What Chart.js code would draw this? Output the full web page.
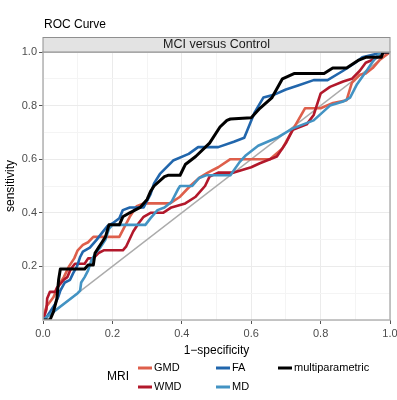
<!DOCTYPE html>
<html>
<head>
<meta charset="utf-8">
<script src="https://cdn.jsdelivr.net/npm/chart.js@4.4.0/dist/chart.umd.min.js"></script>
<style>
  html, body { margin: 0; padding: 0; background: #fff; }
</style>
</head>
<body>
<canvas id="roc" width="397" height="400"></canvas>
<script>
// ROC points: [1-specificity, sensitivity]
const gmd = [[0,0],[0.005,0.03],[0.01,0.05],[0.03,0.085],[0.045,0.13],[0.06,0.16],[0.075,0.2],[0.09,0.23],
  [0.1,0.26],[0.115,0.28],[0.13,0.29],[0.145,0.31],[0.22,0.31],[0.236,0.35],[0.25,0.385],[0.27,0.425],
  [0.29,0.435],[0.366,0.435],[0.395,0.46],[0.424,0.5],[0.45,0.53],[0.475,0.55],[0.505,0.57],[0.54,0.6],
  [0.654,0.6],[0.69,0.64],[0.72,0.71],[0.755,0.79],[0.8,0.79],[0.836,0.81],[0.875,0.82],[0.89,0.885],
  [0.913,0.915],[0.93,0.92],[0.95,0.94],[0.97,0.97],[1,1]];
const wmd = [[0,0],[0.01,0.04],[0.012,0.08],[0.02,0.105],[0.035,0.105],[0.04,0.12],[0.06,0.15],[0.07,0.16],
  [0.08,0.19],[0.092,0.21],[0.12,0.21],[0.13,0.23],[0.145,0.23],[0.16,0.25],[0.175,0.26],[0.23,0.26],
  [0.24,0.275],[0.26,0.33],[0.275,0.36],[0.29,0.385],[0.31,0.4],[0.346,0.4],[0.37,0.42],[0.41,0.435],
  [0.44,0.46],[0.467,0.5],[0.48,0.535],[0.505,0.55],[0.55,0.55],[0.6,0.57],[0.625,0.585],[0.674,0.61],
  [0.7,0.66],[0.72,0.71],[0.76,0.73],[0.78,0.765],[0.8,0.845],[0.827,0.87],[0.865,0.89],[0.89,0.9],
  [0.913,0.93],[0.93,0.96],[0.957,0.975],[0.98,0.995],[1,1]];
const fa = [[0,0],[0.01,0.01],[0.02,0.03],[0.035,0.06],[0.045,0.09],[0.05,0.11],[0.063,0.14],[0.078,0.15],
  [0.087,0.175],[0.098,0.2],[0.107,0.235],[0.115,0.255],[0.135,0.27],[0.155,0.3],[0.17,0.325],[0.185,0.35],
  [0.2,0.36],[0.22,0.38],[0.23,0.41],[0.25,0.42],[0.29,0.42],[0.31,0.47],[0.32,0.51],[0.337,0.545],
  [0.375,0.595],[0.42,0.62],[0.447,0.645],[0.505,0.645],[0.55,0.665],[0.58,0.68],[0.61,0.775],[0.635,0.83],
  [0.665,0.84],[0.7,0.86],[0.735,0.875],[0.78,0.895],[0.82,0.895],[0.865,0.93],[0.9,0.96],[0.92,0.98],
  [0.95,0.99],[0.985,1],[1,1]];
const md = [[0,0],[0.1,0.1],[0.107,0.11],[0.11,0.14],[0.12,0.16],[0.13,0.185],[0.14,0.225],[0.155,0.255],
  [0.165,0.27],[0.18,0.3],[0.19,0.34],[0.2,0.355],[0.295,0.355],[0.31,0.38],[0.33,0.41],[0.35,0.42],
  [0.37,0.44],[0.39,0.49],[0.395,0.5],[0.43,0.5],[0.45,0.53],[0.47,0.54],[0.54,0.54],[0.567,0.59],
  [0.585,0.615],[0.62,0.65],[0.674,0.68],[0.72,0.715],[0.78,0.745],[0.827,0.8],[0.865,0.815],[0.885,0.83],
  [0.905,0.88],[0.93,0.925],[0.948,0.96],[0.966,0.99],[0.977,1],[1,1]];
const multi = [[0,0],[0.02,0],[0.03,0.03],[0.04,0.08],[0.045,0.15],[0.05,0.19],[0.12,0.19],[0.13,0.205],
  [0.145,0.205],[0.15,0.25],[0.16,0.27],[0.17,0.29],[0.18,0.31],[0.19,0.355],[0.22,0.355],[0.23,0.385],
  [0.25,0.4],[0.28,0.42],[0.3,0.45],[0.31,0.48],[0.32,0.5],[0.35,0.535],[0.36,0.54],[0.395,0.54],
  [0.41,0.58],[0.44,0.61],[0.48,0.66],[0.51,0.72],[0.53,0.745],[0.54,0.75],[0.6,0.755],[0.625,0.79],
  [0.66,0.83],[0.69,0.9],[0.725,0.92],[0.81,0.92],[0.835,0.94],[0.875,0.94],[0.91,0.97],[0.93,0.98],
  [0.975,0.98],[0.98,1],[1,1]];
const chance = [[0,0],[1,1]];

const seriesNames = ['GMD', 'WMD', 'FA', 'MD', 'multiparametric'];
const seriesColors = ['#DE5F4B', '#B2182B', '#2166AC', '#4393C3', '#000000'];
const xTicks = [0, 0.2, 0.4, 0.6, 0.8, 1.0];
const xTickLabels = ['0.0', '0.2', '0.4', '0.6', '0.8', '1.0'];
const yTicks = [0.2, 0.4, 0.6, 0.8, 1.0];
const yTickLabels = ['0.2', '0.4', '0.6', '0.8', '1.0'];

const FONT = "'Liberation Sans', Arial, sans-serif";
const toXY = pts => pts.map(p => ({ x: p[0], y: p[1] }));

function tickIndex(list, v) {
  return list.findIndex(t => Math.abs(t - v) < 1e-6);
}

const curves = [gmd, wmd, fa, md, multi];
// first dataset is drawn on top, so multiparametric goes first and the diagonal last
const datasets = [];
for (let i = curves.length - 1; i >= 0; i--) {
  datasets.push({
    label: seriesNames[i],
    data: toXY(curves[i]),
    borderColor: seriesColors[i],
    borderWidth: i === 4 ? 3 : 2.6,
    pointRadius: 0,
    tension: 0,
    borderJoinStyle: 'round',
    borderCapStyle: 'round'
  });
}
datasets.push({
  label: 'chance',
  data: toXY(chance),
  borderColor: '#ABABAB',
  borderWidth: 1.4,
  pointRadius: 0
});

const decor = {
  id: 'decor',
  afterDatasetsDraw(chart) {
    const { ctx, chartArea: a } = chart;
    ctx.save();
    ctx.strokeStyle = '#B3B3B3';
    ctx.lineWidth = 1.5;
    ctx.strokeRect(a.left, a.top, a.right - a.left, a.bottom - a.top);
    ctx.restore();
  },
  afterDraw(chart) {
    const { ctx, chartArea: a } = chart;
    ctx.save();
    // title
    ctx.fillStyle = '#000';
    ctx.font = '12px ' + FONT;
    ctx.textBaseline = 'middle';
    ctx.textAlign = 'left';
    ctx.fillText('ROC Curve', a.left + 1, 25);
    // facet strip
    ctx.fillStyle = '#E3E3E3';
    ctx.fillRect(a.left, 37.5, a.right - a.left, a.top - 37.5);
    ctx.strokeStyle = '#8F8F8F';
    ctx.lineWidth = 1;
    ctx.strokeRect(a.left, 37.5, a.right - a.left, a.top - 37.5);
    ctx.fillStyle = '#1A1A1A';
    ctx.font = '12.5px ' + FONT;
    ctx.textAlign = 'center';
    ctx.fillText('MCI versus Control', (a.left + a.right) / 2, 45);
    // legend
    ctx.textAlign = 'left';
    ctx.fillStyle = '#000';
    ctx.font = '12px ' + FONT;
    ctx.fillText('MRI', 107, 377);
    const slots = [[138, 368], [138, 387], [216, 368], [216, 387], [278, 368]];
    ctx.font = '11px ' + FONT;
    seriesNames.forEach((name, i) => {
      const [x, y] = slots[i];
      ctx.strokeStyle = seriesColors[i];
      ctx.lineWidth = 3;
      ctx.beginPath();
      ctx.moveTo(x, y);
      ctx.lineTo(x + 14, y);
      ctx.stroke();
      ctx.fillStyle = '#000';
      ctx.fillText(name, x + 16, y);
    });
    ctx.restore();
  }
};

new Chart(document.getElementById('roc'), {
  type: 'line',
  data: { datasets },
  options: {
    responsive: false,
    animation: false,
    layout: { padding: { top: 52, right: 0, bottom: 42, left: 0 } },
    plugins: {
      legend: { display: false },
      tooltip: { enabled: false }
    },
    scales: {
      x: {
        type: 'linear',
        min: 0,
        max: 1,
        afterFit: s => { s.height = 38; s.paddingRight = 7; },
        border: { display: false },
        grid: {
          color: c => tickIndex(xTicks, c.tick.value) >= 0 ? '#EBEBEB' : '#F4F4F4',
          tickColor: c => tickIndex(xTicks, c.tick.value) >= 0 ? '#555' : 'rgba(0,0,0,0)',
          tickLength: 4,
          lineWidth: 1
        },
        ticks: {
          stepSize: 0.1,
          autoSkip: false,
          maxRotation: 0,
          padding: 3,
          color: '#4D4D4D',
          font: { family: FONT, size: 11 },
          callback: v => {
            const i = tickIndex(xTicks, v);
            return i >= 0 ? xTickLabels[i] : '';
          }
        },
        title: {
          display: true,
          text: '1\u2212specificity',
          color: '#000',
          font: { family: FONT, size: 12 },
          padding: { top: 3, bottom: 0 }
        }
      },
      y: {
        type: 'linear',
        min: 0,
        max: 1,
        afterFit: s => { s.width = 43; },
        border: { display: false },
        grid: {
          color: c => tickIndex(yTicks, c.tick.value) >= 0 ? '#EBEBEB' : '#F4F4F4',
          tickColor: c => tickIndex(yTicks, c.tick.value) >= 0 ? '#555' : 'rgba(0,0,0,0)',
          tickLength: 4,
          lineWidth: 1
        },
        ticks: {
          stepSize: 0.1,
          autoSkip: false,
          padding: 2,
          color: '#4D4D4D',
          font: { family: FONT, size: 11 },
          callback: v => {
            const i = tickIndex(yTicks, v);
            return i >= 0 ? yTickLabels[i] : '';
          }
        },
        title: {
          display: true,
          text: 'sensitivity',
          color: '#000',
          font: { family: FONT, size: 12 },
          padding: { top: 3, bottom: 0 }
        }
      }
    }
  },
  plugins: [decor]
});
</script>
</body>
</html>
